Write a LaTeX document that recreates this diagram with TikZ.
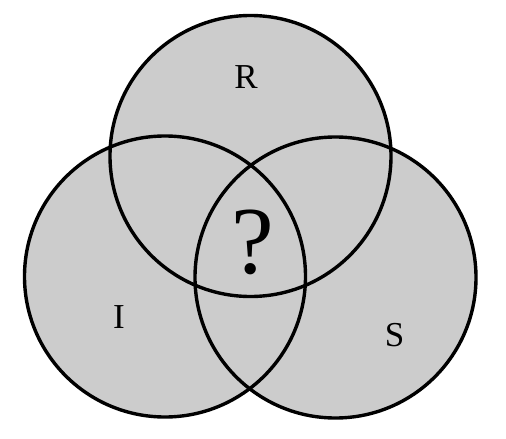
\documentclass[tikz,border=0pt]{standalone}
\usepackage{fontspec}
\setmainfont{Liberation Serif}
\usepackage{tikz}

\begin{document}
\begin{tikzpicture}[
    x=1pt, y=-1pt,
    set fill/.style={fill=black!20},
    set line/.style={draw, line width=3.4pt},
    set label/.style={font=\fontsize{35}{35}\selectfont},
]
  \useasboundingbox (0,0) rectangle (506,439);
  \coordinate (cR) at (250.5,156);
  \coordinate (cI) at (165,276.5);
  \coordinate (cS) at (335.5,277.5);
  \foreach \c in {cR,cI,cS}
    \fill[set fill] (\c) circle[radius=140.5];
  \foreach \c in {cR,cI,cS}
    \draw[set line] (\c) circle[radius=140.5];
  \node[set label] (lR) at (246,77) {R};
  \node[set label] (lI) at (119,317) {I};
  \node[set label] (lS) at (394.5,335) {S};
  \node[font=\fontsize{96}{96}\selectfont] (mid) at (253,242) {?};
\end{tikzpicture}
\end{document}
